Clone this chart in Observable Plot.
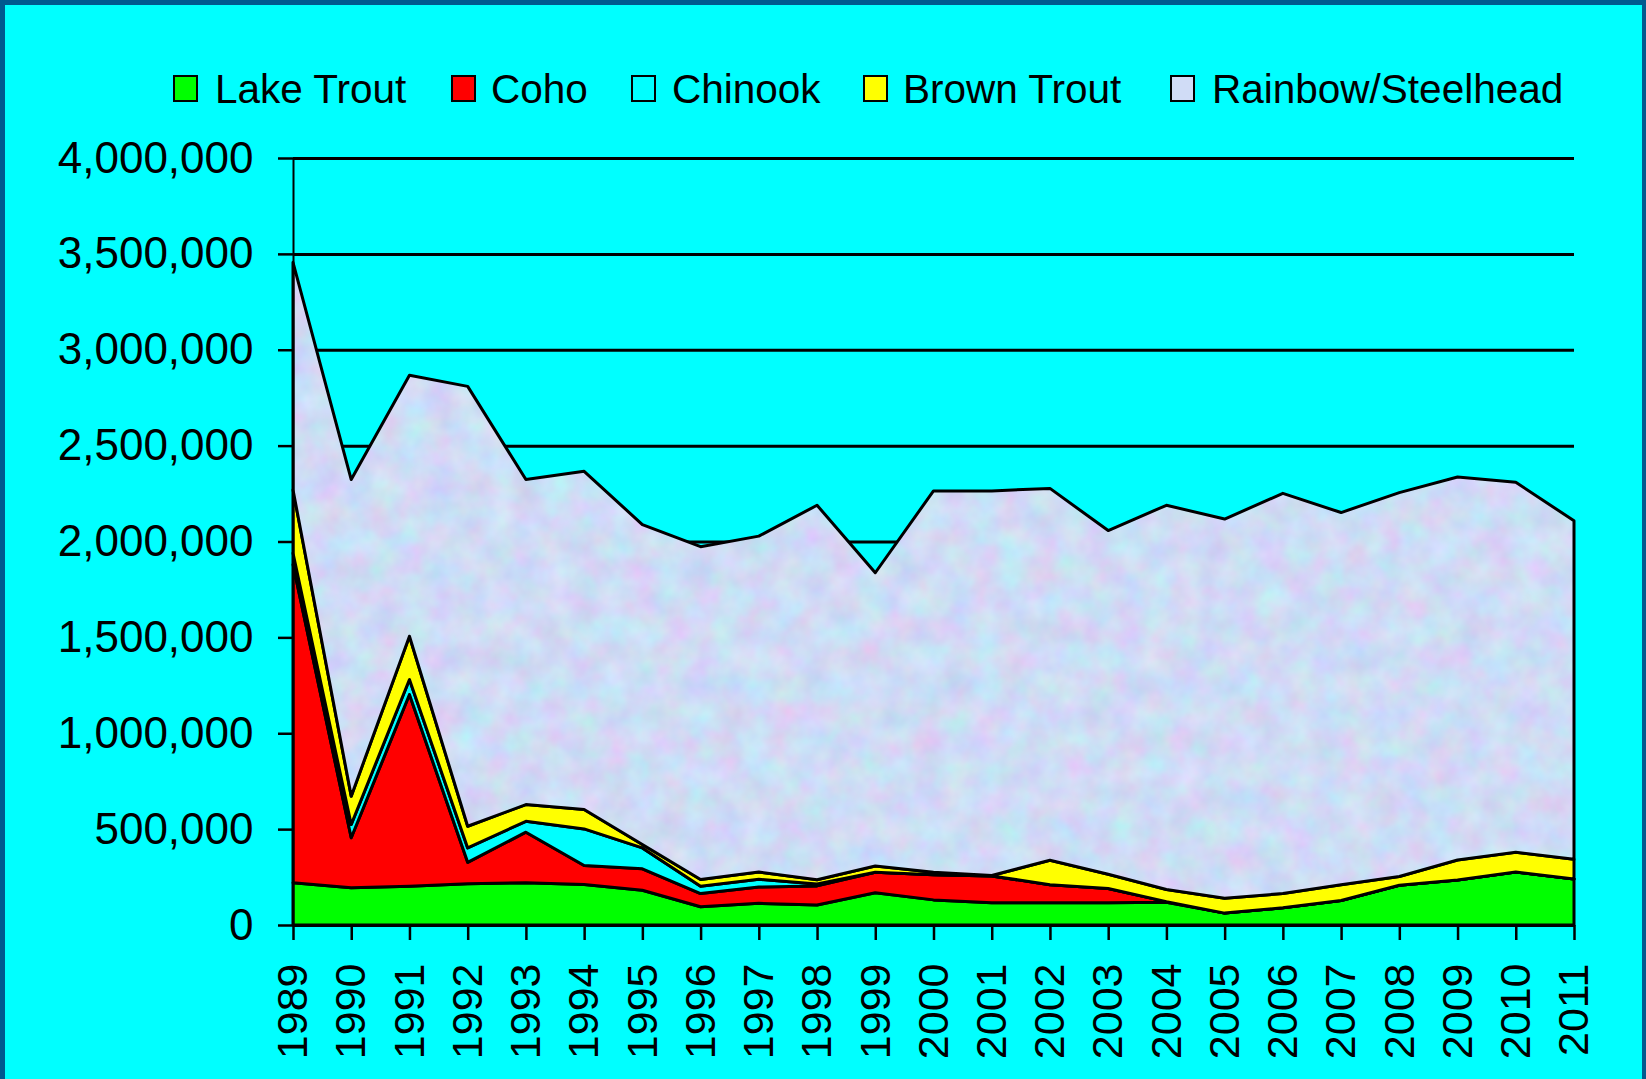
<!DOCTYPE html>
<html>
<head>
<meta charset="utf-8">
<script src="https://cdn.jsdelivr.net/npm/d3@7"></script>
<script src="https://cdn.jsdelivr.net/npm/@observablehq/plot@0.6"></script>
<style>
  html, body { margin: 0; padding: 0; background: #00ffff; }
  #page {
    position: relative; width: 1646px; height: 1079px; overflow: hidden;
    background: #00ffff;
    font-family: "Liberation Sans", Arial, sans-serif;
  }
  #frame {
    position: absolute; left: 0; top: 0; width: 1646px; height: 1079px;
    box-shadow: inset 5px 5px 0 #005a8f, inset -4px 0 0 #005a8f;
    pointer-events: none; z-index: 5;
  }
  #legend { position: relative; height: 130px; }
  .sw { position: absolute; top: 75px; width: 21px; height: 23px; border: 2.5px solid #000; }
  .lab { position: absolute; top: 66px; font-size: 40.5px; line-height: 46px; white-space: nowrap; color: #000; }
  #chart svg { display: block; }
</style>
</head>
<body>
<div id="page">
  <div id="legend"></div>
  <div id="chart"></div>
  <div id="frame"></div>
</div>
<script>
// ---- data (fish stocked per year) ----
const years = [1989, 1990, 1991, 1992, 1993, 1994, 1995, 1996, 1997, 1998, 1999, 2000,
               2001, 2002, 2003, 2004, 2005, 2006, 2007, 2008, 2009, 2010, 2011];
const species = ["Lake Trout", "Coho", "Chinook", "Brown Trout", "Rainbow/Steelhead"];
const colors = ["#00ff00", "#ff0000", "#00ffff", "#ffff00", "#d0dcf6"];

const lakeTrout = [220000, 194000, 202000, 215000, 220000, 211000, 181000, 95000, 113000, 104000, 168000, 131000,
                   116000, 116000, 116000, 118000, 62000, 90000, 128000, 207000, 235000, 276000, 240000];
const coho      = [1660000, 261000, 1000000, 112000, 264000, 99000, 112000, 69000, 85000, 100000, 107000, 131000,
                   140000, 94000, 74000, 4000, 0, 0, 0, 0, 0, 0, 0];
const chinook   = [60000, 69000, 78000, 75000, 57000, 191000, 109000, 38000, 40000, 10000, 0, 0,
                   0, 0, 0, 0, 0, 0, 0, 0, 0, 0, 0];
const brownTrout = [330000, 148000, 226000, 113000, 87000, 101000, 18000, 35000, 38000, 22000, 33000, 13000,
                    2000, 128000, 75000, 63000, 78000, 74000, 82000, 46000, 104000, 103000, 103000];
const rainbow   = [1186000, 1651000, 1361000, 2294000, 1695000, 1764000, 1668000, 1736000, 1752000, 1953000, 1529000, 1989000,
                   2006000, 1939000, 1792000, 2004000, 1977000, 2087000, 1941000, 2002000, 1997000, 1930000, 1765000];
const yTicks = [0, 500000, 1000000, 1500000, 2000000, 2500000, 3000000, 3500000, 4000000];

const series = [lakeTrout, coho, chinook, brownTrout, rainbow];
const data = species.flatMap((s, i) => years.map((year, j) => ({year, species: s, value: series[i][j]})));

// ---- legend ----
const legendPos = [[173, 215], [451, 491], [631, 672], [863, 903], [1170, 1212]];
const legend = document.getElementById("legend");
species.forEach((s, i) => {
  const sw = document.createElement("div");
  sw.className = "sw";
  sw.style.left = legendPos[i][0] + "px";
  sw.style.background = colors[i];
  legend.appendChild(sw);
  const lab = document.createElement("div");
  lab.className = "lab";
  lab.style.left = legendPos[i][1] + "px";
  lab.textContent = s;
  legend.appendChild(lab);
});

// ---- chart ----
const chart = Plot.plot({
  width: 1646,
  height: 949,
  marginLeft: 293,
  marginRight: 72,
  marginTop: 28,
  marginBottom: 154,
  style: {background: "transparent", fontFamily: "'Liberation Sans', Arial, sans-serif", color: "#000"},
  x: {domain: [1989, 2011]},
  y: {domain: [0, 4000000]},
  color: {domain: species, range: colors},
  marks: [
    Plot.ruleY(yTicks, {stroke: "#000", strokeWidth: 3}),
    Plot.areaY(data, {x: "year", y: "value", fill: "species", z: "species", order: species,
                      stroke: "#000", strokeWidth: 3}),
    Plot.ruleX([1989], {y1: 0, y2: 4000000, stroke: "#000", strokeWidth: 2}),
    Plot.ruleY([0], {stroke: "#000", strokeWidth: 3}),
    Plot.axisY({ticks: yTicks, tickSize: 15, tickPadding: 25, tickFormat: d3.format(","),
                fontSize: 44, strokeWidth: 2.5, label: null}),
    Plot.axisX({ticks: years, tickSize: 15, tickPadding: 23, tickRotate: -90, tickFormat: d => String(d),
                fontSize: 43, strokeWidth: 2.5, label: null})
  ]
});

// mottled texture for the Rainbow/Steelhead area
const ns = "http://www.w3.org/2000/svg";
const defs = document.createElementNS(ns, "defs");
defs.innerHTML = `
  <filter id="mottle" x="0" y="0" width="100%" height="100%" color-interpolation-filters="sRGB">
    <feTurbulence type="fractalNoise" baseFrequency="0.035" numOctaves="3" seed="7"/>
    <feColorMatrix type="matrix" values="0.2 -0.06 0 0 0.74  -0.05 0.18 0 0 0.795  0 0 0.1 0 0.91  0 0 0 0 1"/>
  </filter>
  <pattern id="rbTex" patternUnits="userSpaceOnUse" x="0" y="0" width="1646" height="949">
    <rect width="1646" height="949" fill="#d0dcf6"/>
    <rect width="1646" height="949" filter="url(#mottle)"/>
  </pattern>`;
chart.insertBefore(defs, chart.firstChild);
chart.querySelectorAll("path").forEach(p => {
  if ((p.getAttribute("fill") || "").toLowerCase() === "#d0dcf6") p.setAttribute("fill", "url(#rbTex)");
});

document.getElementById("chart").appendChild(chart);
</script>
</body>
</html>
